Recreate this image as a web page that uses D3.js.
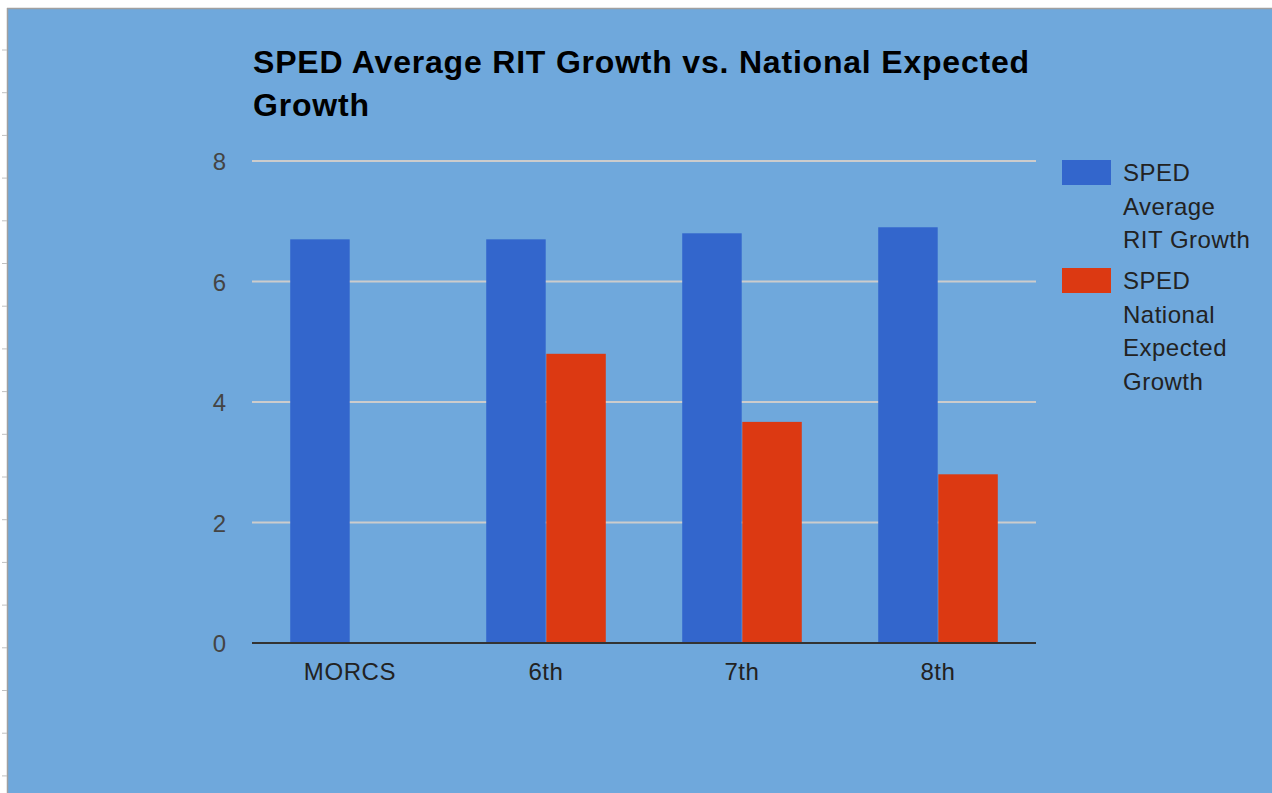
<!DOCTYPE html>
<html>
<head>
<meta charset="utf-8">
<script src="https://cdn.jsdelivr.net/npm/d3@7"></script>
<style>
  html, body { margin: 0; padding: 0; background: #fff; }
  svg { display: block; font-family: "Liberation Sans", Arial, sans-serif; }
</style>
</head>
<body>
<div id="chart"></div>
<script>
// Chart data
const categories = ['MORCS', '6th', '7th', '8th'];
const seriesNames = ['SPED Average RIT Growth', 'SPED National Expected Growth'];
const ritGrowth = [6.7, 6.7, 6.8, 6.9];
const expectedGrowth = [null, 4.8, 3.67, 2.8];
const yTicks = [0, 2, 4, 6, 8];
const titleLines = ['SPED Average RIT Growth vs. National Expected', 'Growth'];
const legendLines = [['SPED', 'Average', 'RIT Growth'], ['SPED', 'National', 'Expected', 'Growth']];

const W = 1272, H = 793;
const colors = {
    bg: '#6fa8dc',
    blue: '#3366cc',
    red: '#dc3912',
    grid: '#cccccc',
    axis: '#333333',
    label: '#444444',
    legend: '#222222'
};
const plot = {left: 252, right: 1036, top: 161, bottom: 643};

const svg = d3.select('#chart')
    .append('svg')
    .attr('width', W)
    .attr('height', H);

// Page background with sheet border
svg.append('rect')
    .attr('x', 7).attr('y', 8)
    .attr('width', W - 7).attr('height', H - 8)
    .attr('fill', colors.bg);

svg.append('line')
    .attr('x1', 7).attr('x2', W).attr('y1', 8.5).attr('y2', 8.5)
    .attr('stroke', '#a0a0a0').attr('stroke-width', 1.5);
svg.append('line')
    .attr('x1', 7.5).attr('x2', 7.5).attr('y1', 8).attr('y2', H)
    .attr('stroke', '#a0a0a0').attr('stroke-width', 1.5);

// Ruler ticks on the left edge
d3.range(50, H, 42.7).forEach(y => {
    svg.append('line')
        .attr('x1', 2).attr('x2', 7)
        .attr('y1', y).attr('y2', y)
        .attr('stroke', '#c0c0c0');
});

// Scales
const x0 = d3.scaleBand()
    .domain(categories)
    .range([plot.left, plot.right])
    .paddingInner(0.39)
    .paddingOuter(0.195);

const x1 = d3.scaleBand()
    .domain([0, 1])
    .range([0, x0.bandwidth()])
    .paddingInner(0.01);

const y = d3.scaleLinear()
    .domain([0, 8])
    .range([plot.bottom, plot.top]);

// Gridlines
svg.append('g')
    .selectAll('line')
    .data(yTicks.filter(d => d > 0))
    .join('line')
    .attr('x1', plot.left).attr('x2', plot.right)
    .attr('y1', d => y(d)).attr('y2', d => y(d))
    .attr('stroke', colors.grid)
    .attr('stroke-width', 2);

// Y tick labels
svg.append('g')
    .selectAll('text')
    .data(yTicks)
    .join('text')
    .attr('x', 226)
    .attr('y', d => y(d) + 9)
    .attr('text-anchor', 'end')
    .attr('font-size', 24)
    .attr('fill', colors.label)
    .text(d => d);

// Bars
const series = [ritGrowth, expectedGrowth];
const barColors = [colors.blue, colors.red];

series.forEach((vals, si) => {
    svg.append('g')
        .selectAll('rect')
        .data(categories.map((c, i) => ({cat: c, v: vals[i]})).filter(d => d.v != null))
        .join('rect')
        .attr('x', d => x0(d.cat) + x1(si))
        .attr('y', d => y(d.v))
        .attr('width', x1.bandwidth())
        .attr('height', d => y(0) - y(d.v))
        .attr('fill', barColors[si]);
});

// Baseline
svg.append('line')
    .attr('x1', plot.left).attr('x2', plot.right)
    .attr('y1', y(0)).attr('y2', y(0))
    .attr('stroke', colors.axis)
    .attr('stroke-width', 2);

// X labels
svg.append('g')
    .selectAll('text')
    .data(categories)
    .join('text')
    .attr('x', d => x0(d) + x0.bandwidth() / 2)
    .attr('y', 680)
    .attr('text-anchor', 'middle')
    .attr('font-size', 24)
    .attr('letter-spacing', 0.6)
    .attr('fill', colors.legend)
    .text(d => d);

// Title
svg.append('text')
    .attr('x', 253)
    .attr('y', 73)
    .attr('font-size', 32)
    .attr('font-weight', 'bold')
    .attr('letter-spacing', 0.8)
    .attr('fill', '#000')
    .selectAll('tspan')
    .data(titleLines)
    .join('tspan')
    .attr('x', 253)
    .attr('dy', (d, i) => i === 0 ? 0 : 43)
    .text(d => d);

// Legend
const legendTops = [160, 268];
legendLines.forEach((lines, si) => {
    const g = svg.append('g')
        .attr('transform', `translate(1062, ${legendTops[si]})`);
    g.append('rect')
        .attr('width', 49).attr('height', 25)
        .attr('fill', barColors[si]);
    g.append('text')
        .attr('font-size', 24)
        .attr('letter-spacing', 0.5)
        .attr('fill', colors.legend)
        .selectAll('tspan')
        .data(lines)
        .join('tspan')
        .attr('x', 61)
        .attr('y', (d, i) => 21 + i * 33.7)
        .text(d => d);
});
</script>
</body>
</html>
